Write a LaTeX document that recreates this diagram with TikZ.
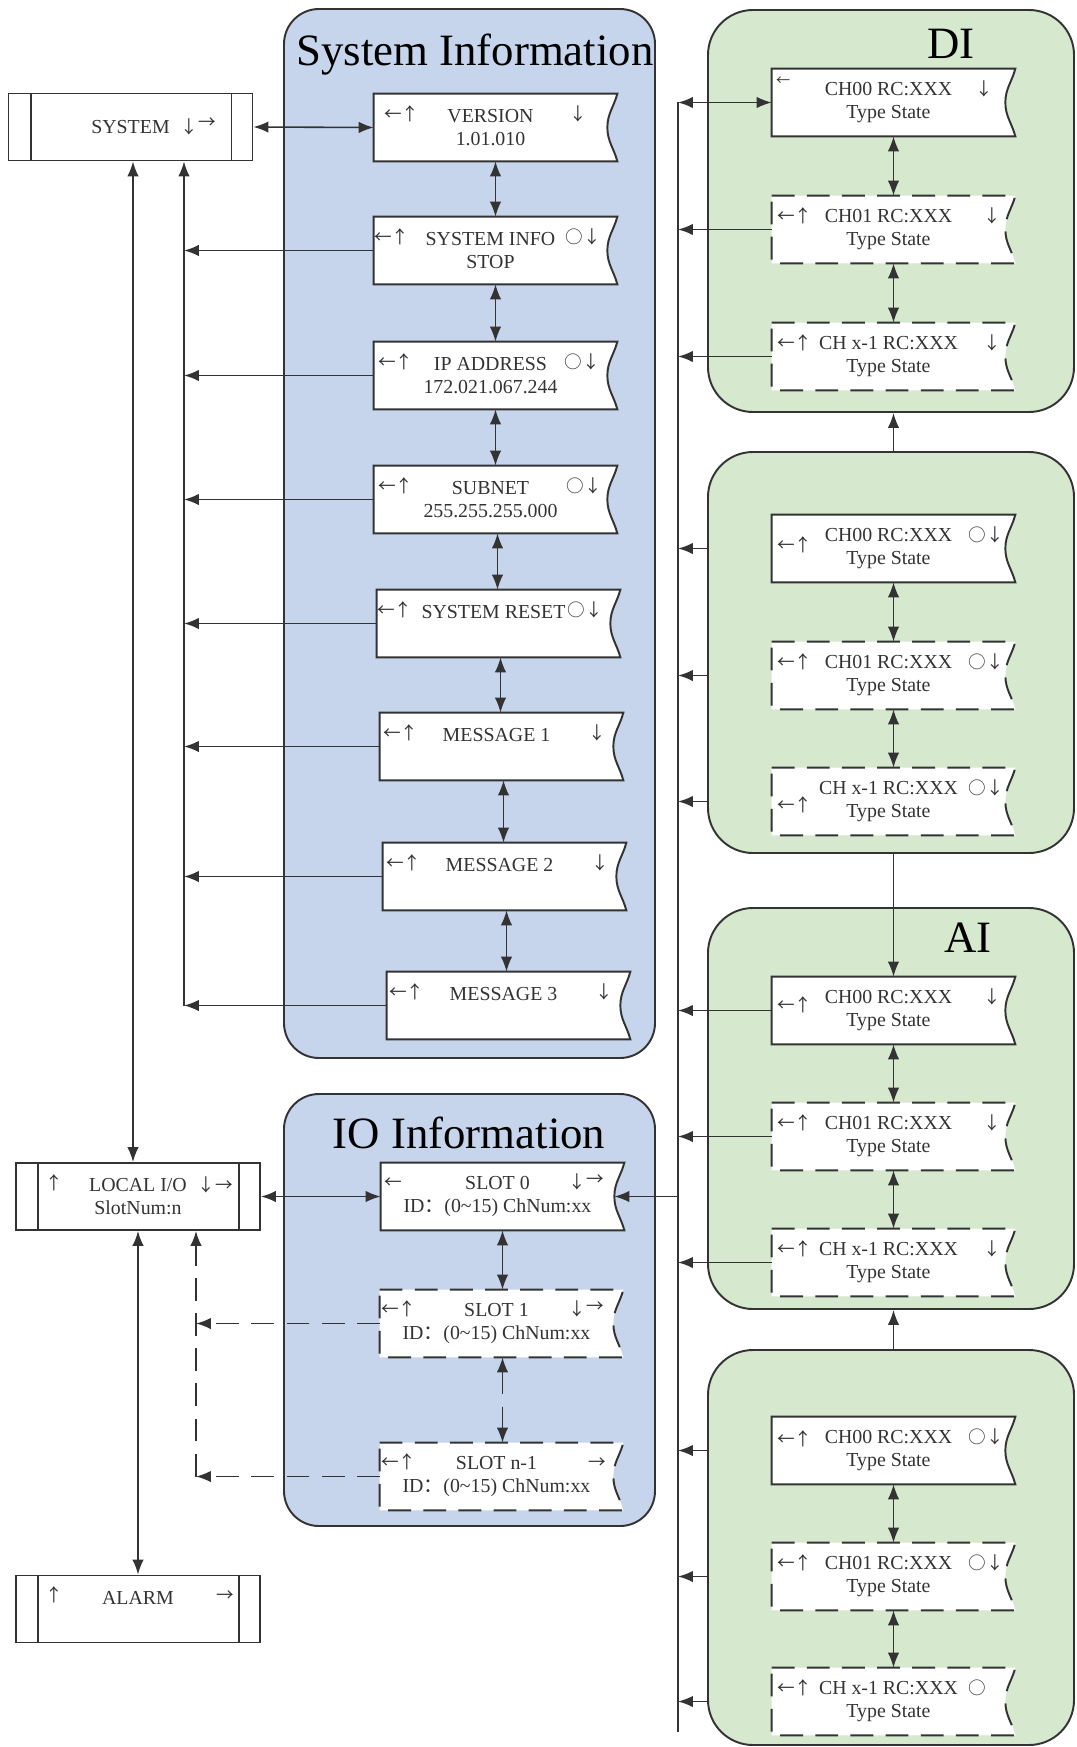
\documentclass[tikz,border=0pt]{standalone}
\usepackage{fontspec}
\setmainfont{Liberation Serif}
\newfontfamily\cjk{Noto Sans CJK SC}
\usepackage{xcolor}
\usepackage{tikz}
\usetikzlibrary{arrows.meta, positioning, fit}

\definecolor{infoblue}{RGB}{198,212,236}
\definecolor{chgreen}{RGB}{214,233,206}
\definecolor{ink}{RGB}{51,51,51}

\pgfdeclarelayer{back}
\pgfdeclarelayer{mid}
\pgfsetlayers{back,mid,main}

\def\pxu{0.02cm}
\newcommand\boxfont{\fontsize{11.3}{13}\selectfont}
\newcommand\glyphfont{\cjk\fontsize{10}{12}\selectfont}

\tikzset{
  panel/.style={draw=ink, line width=1.1pt, inner sep=0pt},
  infopanel/.style={panel, fill=infoblue, rounded corners=0.7cm},
  chpanel/.style={panel, fill=chgreen, rounded corners=0.9cm},
  ptitle/.style={font=\fontsize{25.5}{30}\selectfont, anchor=base, inner sep=0pt},
  mbox/.style={minimum width=233*\pxu, minimum height=67*\pxu, inner sep=0pt,
    align=center, text=ink, font=\boxfont},
  sidebox/.style={draw=ink, line width=1.1pt, fill=white, minimum width=244*\pxu,
    minimum height=67*\pxu, inner sep=0pt, align=center, text=ink, font=\boxfont},
  rim/.style={draw=ink, line width=1.1pt, fill=white},
  dashrim/.style={rim, dash pattern=on 13pt off 7pt},
  gl/.style={inner sep=0pt, text=ink, font=\glyphfont, anchor=base west},
  gr/.style={gl, anchor=base east},
  conn/.style={draw=ink, line width=0.9pt},
  dconn/.style={conn, dash pattern=on 13pt off 7pt},
}

% box with the notched right edge
\newcommand\wavy[2][rim]{%
  \path[#1] (#2.north west) -- ([xshift=10*\pxu]#2.north east)
    to[out=-105,in=90] (#2.east)
    to[out=-90,in=105] ([xshift=10*\pxu]#2.south east) -- (#2.south west) -- cycle;}
% the two inner bars of the side boxes
\newcommand\sidebars[1]{%
  \draw[conn, line width=1.1pt] ([xshift=23*\pxu]#1.north west) -- ([xshift=23*\pxu]#1.south west)
    ([xshift=-22*\pxu]#1.north east) -- ([xshift=-22*\pxu]#1.south east);}

\begin{document}
\begin{tikzpicture}[x=\pxu, y=-\pxu, >={Latex[length=8.5pt,width=6.5pt]}]
    \useasboundingbox (0,0) rectangle (1076,1747);

    % panels
    \begin{pgfonlayer}{back}
        \node[infopanel, fit={(284,9) (655,1058)}] (sipanel) {};
        \node[infopanel, fit={(284,1094) (655,1526)}] (iopanel) {};
        \node[chpanel, fit={(708,10) (1074,412)}] (dipanel) {};
        \node[chpanel, fit={(708,452) (1074,853)}] (p2panel) {};
        \node[chpanel, fit={(708,908) (1074,1309)}] (aipanel) {};
        \node[chpanel, fit={(708,1350) (1074,1745)}] (p4panel) {};
    \end{pgfonlayer}
    \node[ptitle] (sititle) at (475,66) {System Information};
    \node[ptitle] (iotitle) at (469,1148) {IO Information};
    \node[ptitle] (dititle) at (951,59) {DI};
    \node[ptitle] (aititle) at (968,952) {AI};

    % left column
    \node[sidebox] (sys) at (130.5,127) {SYSTEM};
    \node[sidebox] (lio) at (138,1196.5) {LOCAL I/O\\SlotNum:n};
    \node[sidebox] (alarm) at (138,1609) {ALARM\\\phantom{A}};
    \sidebars{sys}
    \sidebars{lio}
    \sidebars{alarm}
    \node[gl] (sys-r) at ([shift={(50,7)}]sys.center) {↓\raisebox{3pt}{→}};
    \node[gl] (lio-l) at ([shift={(30,27)}]lio.north west) {↑};
    \node[gr] (lio-r) at ([shift={(-28,29)}]lio.north east) {↓→};
    \node[gl] (alarm-l) at ([shift={(30,27)}]alarm.north west) {↑};
    \node[gr] (alarm-r) at ([shift={(-27,27)}]alarm.north east) {→};

    % system information
    \node[mbox] (ver) at (490.5,127.5) {VERSION\\1.01.010};
    \node[mbox] (sinfo) at (490.5,250.5) {SYSTEM INFO\\STOP};
    \node[mbox] (ip) at (490.5,375.5) {IP ADDRESS\\172.021.067.244};
    \node[mbox] (subnet) at (490.5,499.5) {SUBNET\\255.255.255.000};
    \node[mbox] (sreset) at (493.5,623.5) {SYSTEM RESET\\\phantom{0}};
    \node[mbox] (msg1) at (496.5,746.5) {MESSAGE 1\\\phantom{0}};
    \node[mbox] (msg2) at (499.5,876.5) {MESSAGE 2\\\phantom{0}};
    \node[mbox] (msg3) at (503.5,1005.5) {MESSAGE 3\\\phantom{0}};
    \node[gl] (ver-l) at ([shift={(10,27)}]ver.north west) {←↑};
    \node[gr] (ver-r) at ([shift={(-20,27)}]ver.north east) {↓};
    \node[gl] (sinfo-l) at ([shift={(0,27)}]sinfo.north west) {←↑};
    \node[gr] (sinfo-r) at ([shift={(-6,27)}]sinfo.north east) {○↓};
    \node[gl] (ip-l) at ([shift={(4,27)}]ip.north west) {←↑};
    \node[gr] (ip-r) at ([shift={(-7,27)}]ip.north east) {○↓};
    \node[gl] (subnet-l) at ([shift={(4,27)}]subnet.north west) {←↑};
    \node[gr] (subnet-r) at ([shift={(-5,27)}]subnet.north east) {○↓};
    \node[gl] (sreset-l) at ([shift={(0,27)}]sreset.north west) {←↑};
    \node[gr] (sreset-r) at ([shift={(-7,27)}]sreset.north east) {○↓};
    \node[gl] (msg1-l) at ([shift={(3,27)}]msg1.north west) {←↑};
    \node[gr] (msg1-r) at ([shift={(-7,27)}]msg1.north east) {↓};
    \node[gl] (msg2-l) at ([shift={(3,27)}]msg2.north west) {←↑};
    \node[gr] (msg2-r) at ([shift={(-7,27)}]msg2.north east) {↓};
    \node[gl] (msg3-l) at ([shift={(2,27)}]msg3.north west) {←↑};
    \node[gr] (msg3-r) at ([shift={(-7,27)}]msg3.north east) {↓};

    % io information
    \node[mbox] (slot0) at (497.5,1196.5) {SLOT 0\\ID{\cjk ：}(0\textasciitilde15) ChNum:xx};
    \node[mbox] (slot1) at (496.5,1323.5) {SLOT 1\\ID{\cjk ：}(0\textasciitilde15) ChNum:xx};
    \node[mbox] (slotn) at (496.5,1476.5) {SLOT n-1\\ID{\cjk ：}(0\textasciitilde15) ChNum:xx};
    \node[gl] (slot0-l) at ([shift={(3,26)}]slot0.north west) {←};
    \node[gr] (slot0-r) at ([shift={(-10,26)}]slot0.north east) {↓\raisebox{2pt}{→}};
    \node[gl] (slot1-l) at ([shift={(1,26)}]slot1.north west) {←↑};
    \node[gr] (slot1-r) at ([shift={(-9,26)}]slot1.north east) {↓\raisebox{2pt}{→}};
    \node[gl] (slotn-l) at ([shift={(1,26)}]slotn.north west) {←↑};
    \node[gr] (slotn-r) at ([shift={(-7,26)}]slotn.north east) {→};

    % DI
    \node[mbox] (di0) at (888.5,102.5) {CH00 RC:XXX\\Type State};
    \node[mbox] (di1) at (888.5,229.5) {CH01 RC:XXX\\Type State};
    \node[mbox] (dix) at (888.5,356.5) {CH x-1 RC:XXX\\Type State};
    \node[gl, font=\cjk\fontsize{8}{9}\selectfont] (di0-l) at ([shift={(4,17)}]di0.north west) {←};
    \node[gr] (di0-r) at ([shift={(-12,27)}]di0.north east) {↓};
    \node[gl] (di1-l) at ([shift={(5,27)}]di1.north west) {←↑};
    \node[gr] (di1-r) at ([shift={(-4,27)}]di1.north east) {↓};
    \node[gl] (dix-l) at ([shift={(5,27)}]dix.north west) {←↑};
    \node[gr] (dix-r) at ([shift={(-4,27)}]dix.north east) {↓};

    % second group
    \node[mbox] (pa0) at (888.5,548.5) {CH00 RC:XXX\\Type State};
    \node[mbox] (pa1) at (888.5,675.5) {CH01 RC:XXX\\Type State};
    \node[mbox] (pax) at (888.5,801.5) {CH x-1 RC:XXX\\Type State};
    \node[gl] (pa0-l) at ([shift={(5,37)}]pa0.north west) {←↑};
    \node[gr] (pa0-r) at ([shift={(-1,27)}]pa0.north east) {○↓};
    \node[gl] (pa1-l) at ([shift={(5,27)}]pa1.north west) {←↑};
    \node[gr] (pa1-r) at ([shift={(-1,27)}]pa1.north east) {○↓};
    \node[gl] (pax-l) at ([shift={(5,44)}]pax.north west) {←↑};
    \node[gr] (pax-r) at ([shift={(-1,27)}]pax.north east) {○↓};

    % AI
    \node[mbox] (ai0) at (888.5,1010.5) {CH00 RC:XXX\\Type State};
    \node[mbox] (ai1) at (888.5,1136.5) {CH01 RC:XXX\\Type State};
    \node[mbox] (aix) at (888.5,1262.5) {CH x-1 RC:XXX\\Type State};
    \node[gl] (ai0-l) at ([shift={(5,35)}]ai0.north west) {←↑};
    \node[gr] (ai0-r) at ([shift={(-4,27)}]ai0.north east) {↓};
    \node[gl] (ai1-l) at ([shift={(5,27)}]ai1.north west) {←↑};
    \node[gr] (ai1-r) at ([shift={(-4,27)}]ai1.north east) {↓};
    \node[gl] (aix-l) at ([shift={(5,27)}]aix.north west) {←↑};
    \node[gr] (aix-r) at ([shift={(-4,27)}]aix.north east) {↓};

    % fourth group
    \node[mbox] (pb0) at (888.5,1450.5) {CH00 RC:XXX\\Type State};
    \node[mbox] (pb1) at (888.5,1576.5) {CH01 RC:XXX\\Type State};
    \node[mbox] (pbx) at (888.5,1701.5) {CH x-1 RC:XXX\\Type State};
    \node[gl] (pb0-l) at ([shift={(5,29)}]pb0.north west) {←↑};
    \node[gr] (pb0-r) at ([shift={(-1,27)}]pb0.north east) {○↓};
    \node[gl] (pb1-l) at ([shift={(5,27)}]pb1.north west) {←↑};
    \node[gr] (pb1-r) at ([shift={(-1,27)}]pb1.north east) {○↓};
    \node[gl] (pbx-l) at ([shift={(5,27)}]pbx.north west) {←↑};
    \node[gr] (pbx-r) at ([shift={(-19,27)}]pbx.north east) {○};

    % box outlines
    \begin{pgfonlayer}{mid}
        \wavy{ver} \wavy{sinfo} \wavy{ip} \wavy{subnet}
        \wavy{sreset} \wavy{msg1} \wavy{msg2} \wavy{msg3}
        \wavy{slot0} \wavy[dashrim]{slot1} \wavy[dashrim]{slotn}
        \wavy{di0} \wavy[dashrim]{di1} \wavy[dashrim]{dix}
        \wavy{pa0} \wavy[dashrim]{pa1} \wavy[dashrim]{pax}
        \wavy{ai0} \wavy[dashrim]{ai1} \wavy[dashrim]{aix}
        \wavy{pb0} \wavy[dashrim]{pb1} \wavy[dashrim]{pbx}
    \end{pgfonlayer}

    % system links
    \draw[conn,<->] (sys.east) -- (ver.west);
    \draw[conn,<->] ([xshift=5*\pxu]ver.south) -- ([xshift=5*\pxu]ver.south |- sinfo.north);
    \draw[conn,<->] ([xshift=5*\pxu]sinfo.south) -- ([xshift=5*\pxu]sinfo.south |- ip.north);
    \draw[conn,<->] ([xshift=5*\pxu]ip.south) -- ([xshift=5*\pxu]ip.south |- subnet.north);
    \draw[conn,<->] ([xshift=7*\pxu]subnet.south) -- ([xshift=7*\pxu]subnet.south |- sreset.north);
    \draw[conn,<->] ([xshift=7*\pxu]sreset.south) -- ([xshift=7*\pxu]sreset.south |- msg1.north);
    \draw[conn,<->] ([xshift=7*\pxu]msg1.south) -- ([xshift=7*\pxu]msg1.south |- msg2.north);
    \draw[conn,<->] ([xshift=7*\pxu]msg2.south) -- ([xshift=7*\pxu]msg2.south |- msg3.north);

    % left bus
    \coordinate (lbus) at (184,0);
    \draw[conn,->] (sinfo.west) -- (sinfo.west -| lbus);
    \draw[conn,->] (ip.west) -- (ip.west -| lbus);
    \draw[conn,->] (subnet.west) -- (subnet.west -| lbus);
    \draw[conn,->] (sreset.west) -- (sreset.west -| lbus);
    \draw[conn,->] (msg1.west) -- (msg1.west -| lbus);
    \draw[conn,->] (msg2.west) -- (msg2.west -| lbus);
    \draw[conn,->] (msg3.west) -- (msg3.west -| lbus);
    \draw[conn,->] (msg3.west -| lbus) -- (sys.south -| lbus);
    \coordinate (sysdown) at (133,0);
    \draw[conn,<->] (sys.south -| sysdown) -- (lio.north -| sysdown);
    \draw[conn,<->] (lio.south) -- (alarm.north);
    \draw[conn,<->] (lio.east) -- (slot0.west);

    % slot links
    \draw[conn,<->] ([xshift=5*\pxu]slot0.south) -- ([xshift=5*\pxu]slot0.south |- slot1.north);
    \draw[dconn,<->] ([xshift=6*\pxu]slot1.south) -- ([xshift=6*\pxu]slot1.south |- slotn.north);
    \coordinate (dbus) at (196,0);
    \draw[dconn,->] (slot1.west) -- (slot1.west -| dbus);
    \draw[dconn,->] (slotn.west) -- (slotn.west -| dbus);
    \draw[dconn,->] (slotn.west -| dbus) -- (lio.south -| dbus);

    % right bus
    \coordinate (bus) at (678,0);
    \coordinate (busend) at (678,1732);
    \draw[conn] (di0.west -| bus) -- (busend);
    \draw[conn,<->] (di0.west -| bus) -- (di0.west);
    \draw[conn,->] (di1.west) -- (di1.west -| bus);
    \draw[conn,->] (dix.west) -- (dix.west -| bus);
    \draw[conn,->] (pa0 -| p2panel.west) -- (pa0 -| bus);
    \draw[conn,->] (pa1 -| p2panel.west) -- (pa1 -| bus);
    \draw[conn,->] (pax -| p2panel.west) -- (pax -| bus);
    \draw[conn,->] (ai0.west) -- (ai0.west -| bus);
    \draw[conn,->] (ai1.west) -- (ai1.west -| bus);
    \draw[conn,->] (aix.west) -- (aix.west -| bus);
    \draw[conn,->] (pb0 -| p4panel.west) -- (pb0 -| bus);
    \draw[conn,->] (pb1 -| p4panel.west) -- (pb1 -| bus);
    \draw[conn,->] (pbx -| p4panel.west) -- (pbx -| bus);
    \draw[conn,->] (slot0.east -| bus) -- (slot0.east);

    % channel links
    \coordinate (chx) at ([xshift=5*\pxu]di0.south);
    \draw[conn,<->] (di0.south -| chx) -- (di1.north -| chx);
    \draw[conn,<->] (di1.south -| chx) -- (dix.north -| chx);
    \draw[conn,<->] (pa0.south -| chx) -- (pa1.north -| chx);
    \draw[conn,<->] (pa1.south -| chx) -- (pax.north -| chx);
    \draw[conn,<->] (ai0.south -| chx) -- (ai1.north -| chx);
    \draw[conn,<->] (ai1.south -| chx) -- (aix.north -| chx);
    \draw[conn,<->] (pb0.south -| chx) -- (pb1.north -| chx);
    \draw[conn,<->] (pb1.south -| chx) -- (pbx.north -| chx);
    \draw[conn,->] (p2panel.north -| chx) -- (dipanel.south -| chx);
    \draw[conn,->] (p2panel.south -| chx) -- (ai0.north -| chx);
    \draw[conn,->] (p4panel.north -| chx) -- (aipanel.south -| chx);
\end{tikzpicture}
\end{document}
